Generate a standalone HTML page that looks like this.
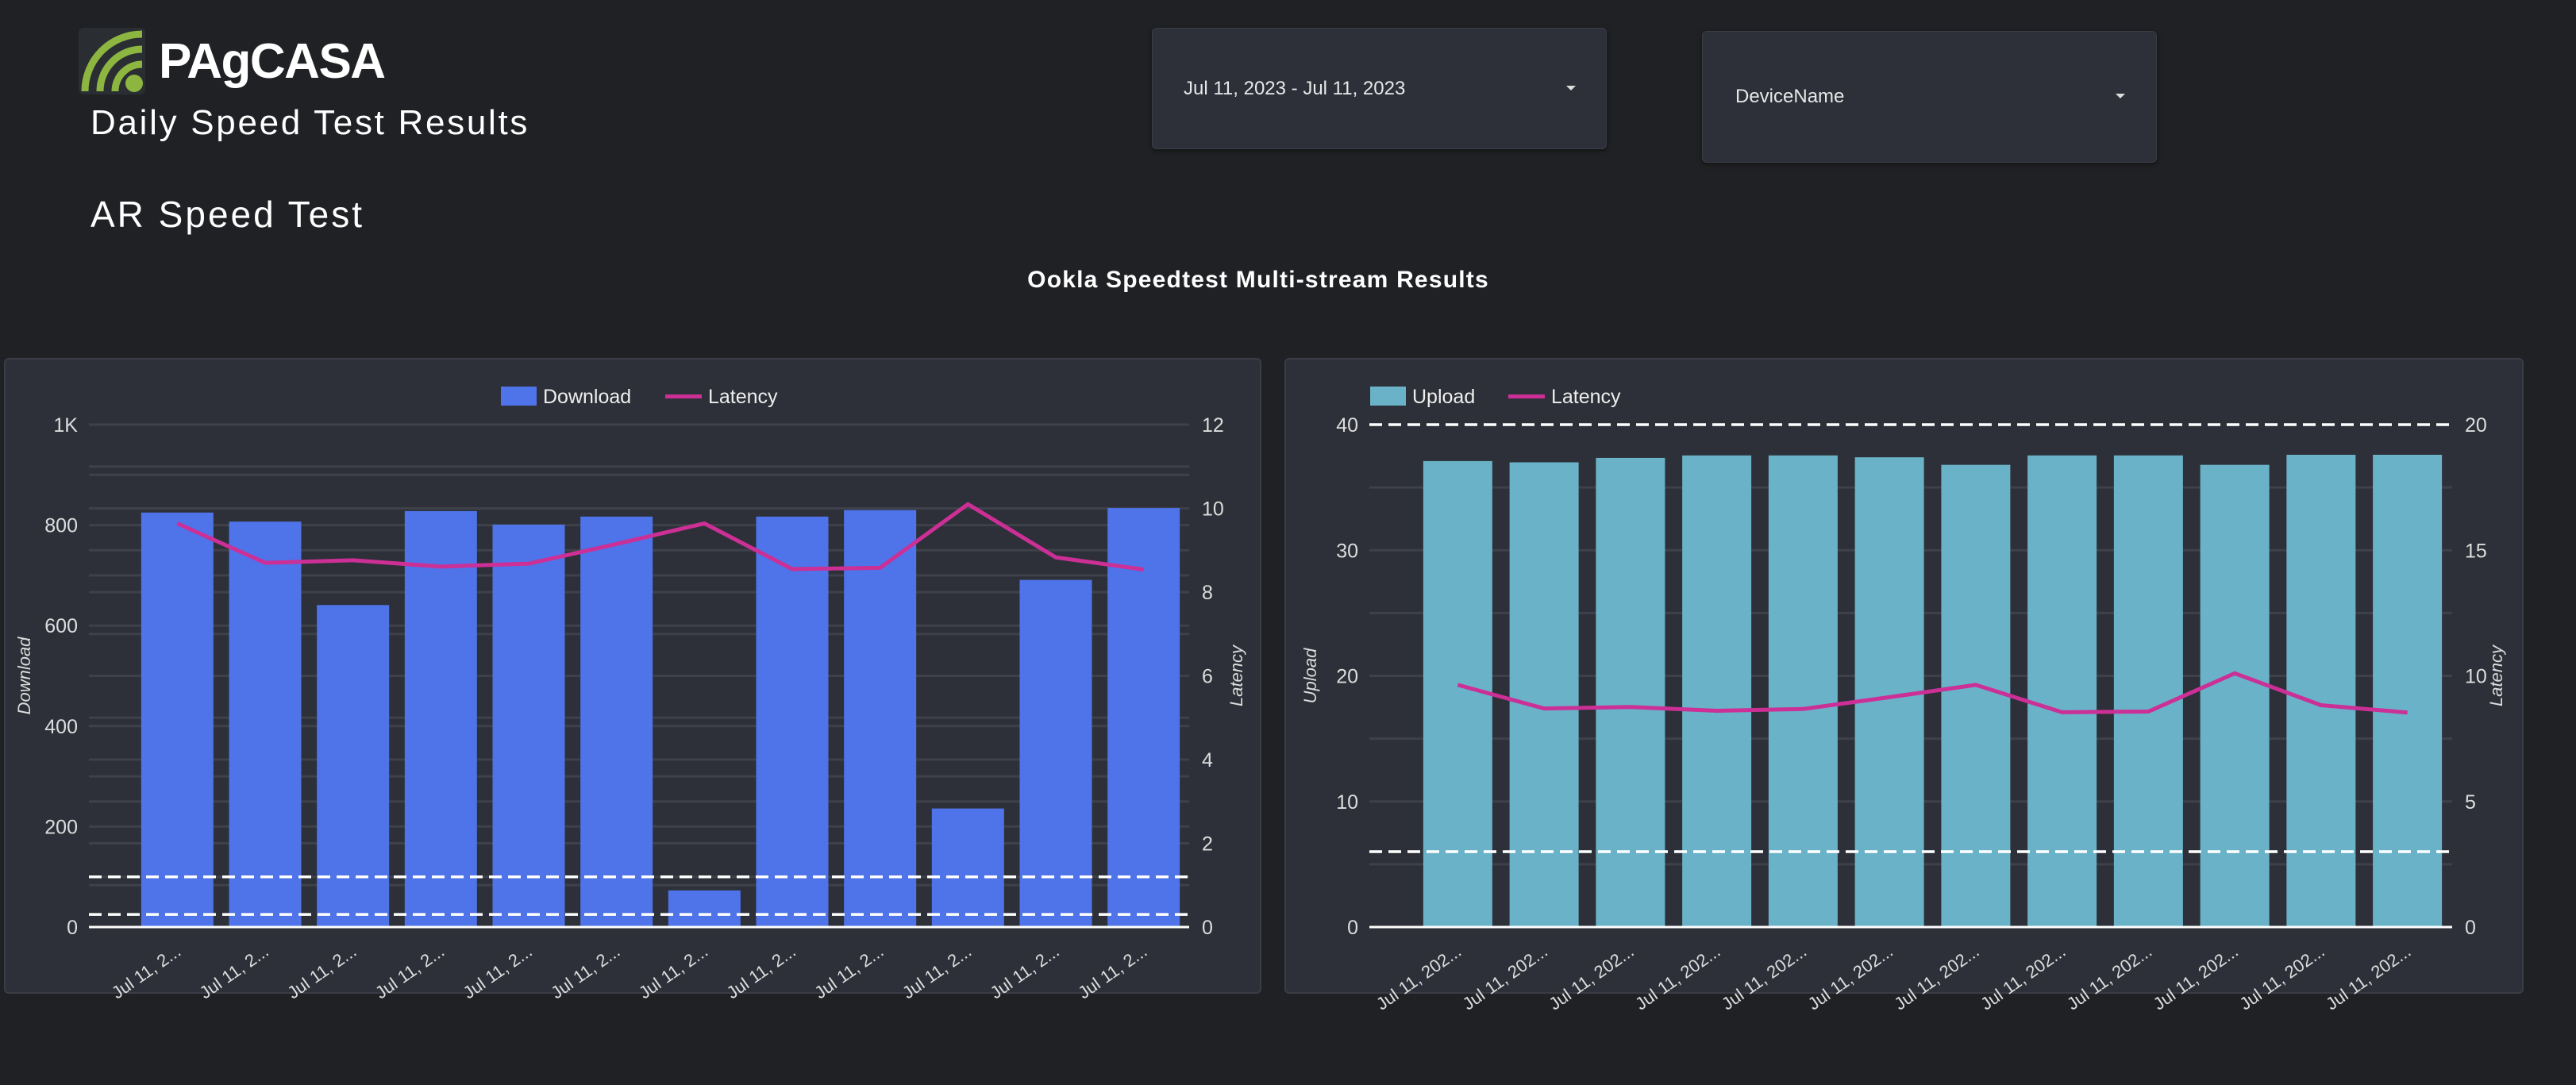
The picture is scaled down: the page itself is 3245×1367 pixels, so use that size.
<!DOCTYPE html>
<html><head><meta charset="utf-8">
<style>
body{margin:0;background:#202124;width:3245px;height:1367px;overflow:hidden;font-family:"Liberation Sans",sans-serif;color:#fff;position:relative}
.abs{position:absolute}
.dd{position:absolute;background:#2d3038;border:1px solid #3a3d45;border-radius:6px;box-shadow:0 2px 6px rgba(0,0,0,.5)}
.dd span{position:absolute;font-size:24px;color:#e8e8e8}
.dd i{position:absolute;width:0;height:0;border-left:6px solid transparent;border-right:6px solid transparent;border-top:6px solid #ddd}
.panel{position:absolute;background:#2d3038;border:2px solid #3a3d45;border-radius:6px}
</style></head><body>
<svg class="abs" style="left:99px;top:35px" width="84" height="84" viewBox="0 0 84 84">
<rect width="84" height="84" rx="6" fill="#2a2e33"/>
<circle cx="70" cy="70" r="11" fill="#8db641"/>
<path d="M46 80 A34 34 0 0 1 80 46" stroke="#8db641" stroke-width="9" fill="none"/>
<path d="M27 80 A53 53 0 0 1 80 27" stroke="#8db641" stroke-width="9" fill="none"/>
<path d="M8 80 A72 72 0 0 1 80 8" stroke="#8db641" stroke-width="9" fill="none"/>
</svg>
<div class="abs" style="left:200px;top:42px;font-size:62px;font-weight:bold;letter-spacing:-1.5px">PAgCASA</div>
<div class="abs" style="left:114px;top:130px;font-size:44px;letter-spacing:2.7px">Daily Speed Test Results</div>
<div class="abs" style="left:114px;top:243px;font-size:46px;letter-spacing:3px">AR Speed Test</div>
<div class="abs" style="left:0;width:3170px;text-align:center;top:336px;font-size:30px;font-weight:bold;letter-spacing:1.2px">Ookla Speedtest Multi-stream Results</div>
<div class="dd" style="left:1451px;top:35px;width:571px;height:151px"><span style="left:39px;top:62px">Jul 11, 2023 - Jul 11, 2023</span><i style="left:521px;top:72px"></i></div>
<div class="dd" style="left:2144px;top:39px;width:571px;height:164px"><span style="left:41px;top:68px">DeviceName</span><i style="left:520px;top:78px"></i></div>
<div class="panel" style="left:5px;top:451px;width:1580px;height:797px"></div>
<div class="panel" style="left:1618px;top:451px;width:1557px;height:797px"></div>
<svg id="svg" class="abs" style="left:0;top:0" width="3245" height="1367"></svg>
<script>
const categories=["Jul 11, 2023 1","Jul 11, 2023 2","Jul 11, 2023 3","Jul 11, 2023 4","Jul 11, 2023 5","Jul 11, 2023 6","Jul 11, 2023 7","Jul 11, 2023 8","Jul 11, 2023 9","Jul 11, 2023 10","Jul 11, 2023 11","Jul 11, 2023 12"];
const downloadValues=[825,807,641,828,801,817,73,817,830,236,691,834];
const uploadValues=[37.1,37.0,37.35,37.55,37.55,37.4,36.8,37.55,37.55,36.8,37.6,37.6];
const latencyValues=[9.64,8.70,8.76,8.61,8.68,9.15,9.64,8.55,8.58,10.1,8.83,8.54];
const downloadTicks=[0,200,400,600,800,1000];
const downloadTickLabels=["0","200","400","600","800","1K"];
const latencyTicksLeft=[0,2,4,6,8,10,12];
const uploadTicks=[0,10,20,30,40];
const latencyTicksRight=[0,5,10,15,20];
const downloadRefLines=[100,25];
const uploadRefLines=[40,6];
const NS="http://www.w3.org/2000/svg";
const svg=document.getElementById('svg');
function mk(tag,attrs,parent){const e=document.createElementNS(NS,tag);for(const k in attrs)e.setAttribute(k,attrs[k]);(parent||svg).appendChild(e);return e;}
function chart(o){
  const g=mk('g',{});
  
  
  const y=v=>o.y1-(v/o.lmax)*(o.y1-o.y0);
  const yr=v=>o.y1-(v/o.rmax)*(o.y1-o.y0);
  const slot=(o.b1-o.b0)/categories.length;
  const cx=i=>o.b0+slot*(i+0.5);
  o.gridL.forEach(v=>{const l=mk('line',{x1:o.x0,x2:o.x1,y1:y(v),y2:y(v),stroke:'#3e4149','stroke-width':3},g);});
  o.gridR.forEach(v=>{const l=mk('line',{x1:o.x0,x2:o.x1,y1:yr(v),y2:yr(v),stroke:'#3e4149','stroke-width':3},g);});
  o.values.forEach((v,i)=>{const r=mk('rect',{x:cx(i)-o.bw/2,y:y(v),width:o.bw,height:o.y1-y(v),fill:o.color},g);});
  o.refs.forEach(v=>{const l=mk('line',{x1:o.x0,x2:o.x1,y1:y(v),y2:y(v),stroke:'#fff','stroke-width':3.5,'stroke-dasharray':'16 8'},g);});
  const b=mk('line',{x1:o.x0,x2:o.x1,y1:o.y1,y2:o.y1,stroke:'#fff','stroke-width':3},g);
  const p=mk('polyline',{points:latencyValues.map((v,i)=>cx(i)+','+yr(v)).join(' '),fill:'none',stroke:'#cc2f96','stroke-width':5,'stroke-linejoin':'round'},g);
  
  o.ticksL.forEach((v,i)=>{const t=mk('text',{x:o.x0-14,y:y(v)+9,'text-anchor':'end','font-size':25,fill:'#ddd'},g);t.textContent=o.labelsL[i];});
  o.ticksR.forEach(v=>{const t=mk('text',{x:o.x1+16,y:yr(v)+9,'font-size':25,fill:'#ddd'},g);t.textContent=String(v);});
  categories.forEach((c,i)=>{const x=cx(i)+6,yy=o.y1+34;const t=mk('text',{x:x,y:yy,'text-anchor':'end','font-size':22,fill:'#ddd',transform:`rotate(-35 ${x} ${yy})`},g);t.textContent=o.xl;});
  const my=(o.y0+o.y1)/2;
  let t=mk('text',{x:o.ltx,y:my,'text-anchor':'middle','font-size':22,'font-style':'italic',fill:'#ddd',transform:`rotate(-90 ${o.ltx} ${my})`},g);t.textContent=o.ltitle;
  t=mk('text',{x:o.rtx,y:my,'text-anchor':'middle','font-size':22,'font-style':'italic',fill:'#ddd',transform:`rotate(-90 ${o.rtx} ${my})`},g);t.textContent='Latency';
  const lg=mk('g',{},g);
  let r=mk('rect',{x:o.lx,y:487,width:45,height:24,fill:o.color},lg);
  t=mk('text',{x:o.lx+53,y:508,'font-size':25,fill:'#eee'},lg);t.textContent=o.ltitle;
  r=mk('rect',{x:o.lx2,y:497,width:46,height:5,fill:'#cc2f96'},lg);
  t=mk('text',{x:o.lx2+54,y:508,'font-size':25,fill:'#eee'},lg);t.textContent='Latency';
}
chart({name:'download-chart',x0:112,x1:1498,b0:168,b1:1496,y0:535,y1:1168,lmax:1000,rmax:12,bw:91,color:'#4f73e8',values:downloadValues,refs:downloadRefLines,
  gridL:[100,200,300,400,500,600,700,800,900,1000],gridR:[1,2,3,4,5,6,7,8,9,10,11],ticksL:downloadTicks,labelsL:downloadTickLabels,ticksR:latencyTicksLeft,
  xl:'Jul 11, 2...',ltitle:'Download',ltx:38,rtx:1565,lx:631,lx2:838});
chart({name:'upload-chart',x0:1725,x1:3089,b0:1782,b1:3087,y0:535,y1:1168,lmax:40,rmax:20,bw:87,color:'#69b2c8',values:uploadValues,refs:uploadRefLines,
  gridL:[5,10,15,20,25,30,35],gridR:[],ticksL:uploadTicks,labelsL:uploadTicks.map(String),ticksR:latencyTicksRight,
  xl:'Jul 11, 202...',ltitle:'Upload',ltx:1658,rtx:3152,lx:1726,lx2:1900});
</script>
</body></html>
